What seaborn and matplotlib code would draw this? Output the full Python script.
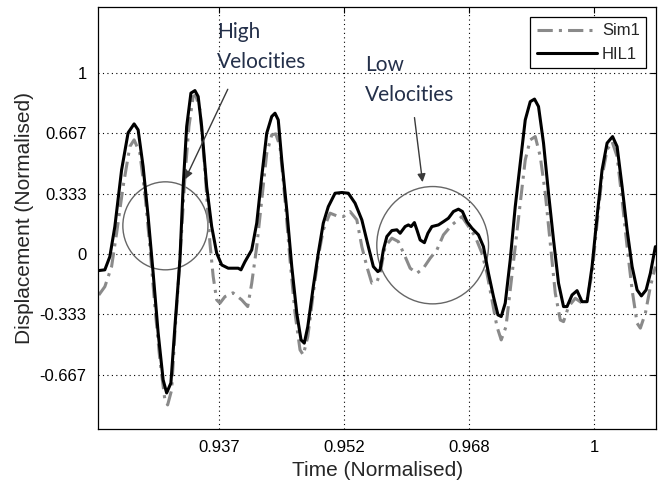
import numpy as np
import pandas as pd
import matplotlib
matplotlib.use('Agg')
import matplotlib.pyplot as plt
from matplotlib.patches import Ellipse
import seaborn as sns

# time axis in tick units (ticks sit at 1, 2, 3, 4)
hil_t = [0.040, 0.088, 0.128, 0.168, 0.222, 0.274, 0.322, 0.354, 0.394, 0.434,
         0.474, 0.514, 0.554, 0.582, 0.616, 0.648, 0.688, 0.714, 0.742, 0.776,
         0.808, 0.834, 0.862, 0.902, 0.942, 0.982, 1.022, 1.074, 1.154, 1.176,
         1.208, 1.262, 1.302, 1.342, 1.382, 1.422, 1.448, 1.474, 1.502, 1.542,
         1.582, 1.622, 1.656, 1.682, 1.710, 1.754, 1.794, 1.834, 1.874, 1.928,
         1.982, 2.034, 2.088, 2.142, 2.194, 2.234, 2.270, 2.288, 2.314, 2.342,
         2.382, 2.422, 2.448, 2.488, 2.514, 2.536, 2.562, 2.582, 2.608, 2.642,
         2.670, 2.702, 2.754, 2.794, 2.834, 2.874, 2.914, 2.946, 2.982, 3.022,
         3.074, 3.114, 3.154, 3.194, 3.230, 3.256, 3.288, 3.328, 3.368, 3.408,
         3.448, 3.488, 3.522, 3.554, 3.594, 3.634, 3.674, 3.714, 3.754, 3.782,
         3.822, 3.862, 3.902, 3.942, 3.982, 4.022, 4.062, 4.102, 4.146, 4.182,
         4.222, 4.262, 4.302, 4.342, 4.376, 4.414, 4.448, 4.488]
hil_y = [-0.092, -0.088, -0.015, 0.151, 0.464, 0.669, 0.718, 0.685, 0.482, 0.206,
         -0.105, -0.436, -0.696, -0.768, -0.713, -0.402, -0.033, 0.372, 0.703, 0.888,
         0.902, 0.869, 0.703, 0.372, 0.151, 0.004, -0.061, -0.079, -0.079, -0.088,
         -0.043, 0.022, 0.170, 0.427, 0.667, 0.759, 0.777, 0.740, 0.519, 0.243,
         -0.070, -0.328, -0.475, -0.493, -0.402, -0.181, 0.004, 0.170, 0.261, 0.335,
         0.339, 0.335, 0.280, 0.188, 0.040, -0.070, -0.098, -0.088, 0.022, 0.096,
         0.129, 0.133, 0.114, 0.151, 0.160, 0.151, 0.173, 0.133, 0.077, 0.062,
         0.114, 0.151, 0.160, 0.178, 0.197, 0.234, 0.247, 0.234, 0.178, 0.142,
         0.105, 0.040, -0.107, -0.236, -0.337, -0.346, -0.272, -0.033, 0.261, 0.501,
         0.740, 0.841, 0.855, 0.814, 0.612, 0.335, 0.077, -0.162, -0.291, -0.291,
         -0.227, -0.203, -0.264, -0.264, -0.070, 0.206, 0.464, 0.612, 0.648, 0.593,
         0.372, 0.133, -0.070, -0.199, -0.232, -0.199, -0.107, 0.040]

sim_t = [0.040, 0.088, 0.142, 0.182, 0.234, 0.288, 0.322, 0.368, 0.408, 0.448,
         0.488, 0.528, 0.568, 0.590, 0.622, 0.648, 0.688, 0.728, 0.760, 0.794,
         0.814, 0.848, 0.888, 0.928, 0.954, 0.982, 1.008, 1.048, 1.112, 1.182,
         1.230, 1.262, 1.302, 1.342, 1.382, 1.422, 1.454, 1.488, 1.528, 1.568,
         1.608, 1.648, 1.674, 1.710, 1.754, 1.794, 1.834, 1.888, 1.942, 1.994,
         2.048, 2.102, 2.142, 2.182, 2.222, 2.262, 2.288, 2.328, 2.382, 2.434,
         2.488, 2.528, 2.582, 2.634, 2.688, 2.742, 2.794, 2.862, 2.942, 3.048,
         3.102, 3.142, 3.182, 3.222, 3.256, 3.294, 3.328, 3.368, 3.408, 3.448,
         3.488, 3.528, 3.568, 3.608, 3.648, 3.688, 3.728, 3.754, 3.794, 3.848,
         3.902, 3.942, 3.982, 4.022, 4.062, 4.102, 4.142, 4.182, 4.222, 4.262,
         4.302, 4.342, 4.368, 4.408, 4.448, 4.488]
sim_y = [-0.227, -0.181, -0.070, 0.114, 0.372, 0.593, 0.630, 0.556, 0.335, 0.040,
         -0.291, -0.586, -0.807, -0.834, -0.751, -0.436, -0.033, 0.427, 0.703, 0.869,
         0.878, 0.796, 0.464, 0.059, -0.125, -0.254, -0.272, -0.236, -0.215, -0.254,
         -0.291, -0.162, 0.040, 0.298, 0.556, 0.657, 0.663, 0.593, 0.298, -0.033,
         -0.328, -0.530, -0.558, -0.457, -0.217, -0.015, 0.133, 0.225, 0.210, 0.206,
         0.234, 0.188, 0.040, -0.070, -0.162, -0.155, -0.107, 0.040, 0.087, 0.068,
         -0.015, -0.079, -0.107, -0.079, -0.024, 0.022, 0.105, 0.160, 0.206, 0.096,
         0.004, -0.107, -0.254, -0.402, -0.475, -0.402, -0.199, 0.040, 0.280, 0.519,
         0.630, 0.648, 0.538, 0.335, 0.059, -0.217, -0.365, -0.374, -0.291, -0.245,
         -0.272, -0.254, -0.107, 0.170, 0.427, 0.575, 0.620, 0.538, 0.298, 0.040,
         -0.199, -0.383, -0.410, -0.328, -0.181, -0.070]

x_ticks = [1, 2, 3, 4]
x_labels = ['0.937', '0.952', '0.968', '1']
y_ticks = [-2/3, -1/3, 0, 1/3, 2/3, 1]
y_labels = ['-0.667', '-0.333', '0', '0.333', '0.667', '1']

df = pd.concat([
    pd.DataFrame({'t': sim_t, 'disp': sim_y, 'run': 'Sim1'}),
    pd.DataFrame({'t': hil_t, 'disp': hil_y, 'run': 'HIL1'}),
])

sns.set_style('white')
plt.rcParams['font.family'] = ['Liberation Sans', 'DejaVu Sans']

fig = plt.figure(figsize=(6.61, 4.82), dpi=100)
ax = fig.add_axes([0.148, 0.110, 0.845, 0.876])

sns.lineplot(data=df[df.run == 'Sim1'], x='t', y='disp', ax=ax, estimator=None, sort=False,
             color='#8a8a8a', lw=2.2, linestyle=(0, (5, 2, 1, 2)), label='Sim1')
sns.lineplot(data=df[df.run == 'HIL1'], x='t', y='disp', ax=ax, estimator=None, sort=False,
             color='black', lw=2.2, label='HIL1')

ax.set_xlim(0.032, 4.496)
ax.set_ylim(-0.967, 1.365)
ax.set_xticks(x_ticks)
ax.set_xticklabels(x_labels)
ax.set_yticks(y_ticks)
ax.set_yticklabels(y_labels)
ax.grid(True, color='black', linestyle=(0, (1, 3)), lw=0.8)
ax.tick_params(direction='in', length=4, width=0.8, top=True, right=True,
               labelsize=12, colors='black', pad=8)
for s in ax.spines.values():
    s.set_color('black')
    s.set_linewidth(0.9)

ax.set_xlabel('Time (Normalised)', fontsize=15, labelpad=4)
ax.set_ylabel('Displacement (Normalised)', fontsize=15, labelpad=4)

# annotation circles
ax.add_patch(Ellipse((0.572, 0.155), 0.68, 0.486, fill=False, ec='#666666', lw=1.0))
ax.add_patch(Ellipse((2.708, 0.048), 0.893, 0.648, fill=False, ec='#666666', lw=1.0))

note = dict(fontsize=15, family=['Lato', 'DejaVu Sans'], color='#24304a',
            va='top', ha='left', linespacing=1.6)
ax.text(0.984, 1.280, 'High\nVelocities', **note)
ax.text(2.165, 1.098, 'Low\nVelocities', **note)
ax.annotate('', xy=(0.720, 0.398), xytext=(1.080, 0.923),
            arrowprops=dict(arrowstyle='-|>', color='#3a3a3a', lw=1.0, mutation_scale=12))
ax.annotate('', xy=(2.630, 0.381), xytext=(2.560, 0.768),
            arrowprops=dict(arrowstyle='-|>', color='#3a3a3a', lw=1.0, mutation_scale=12))

leg = ax.legend(loc='upper right', fontsize=12, frameon=True, fancybox=False,
                edgecolor='black', framealpha=1, handlelength=3.6, handletextpad=0.3,
                labelspacing=0.5, borderaxespad=0.6, borderpad=0.4)
leg.get_frame().set_linewidth(0.9)

fig.savefig('out.png', dpi=100)
